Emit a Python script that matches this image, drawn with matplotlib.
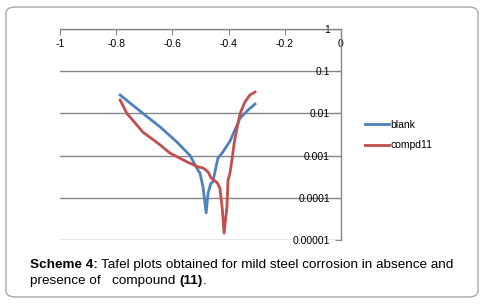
import matplotlib
matplotlib.use('Agg')
import matplotlib.pyplot as plt
from matplotlib.patches import FancyBboxPatch

plt.rcParams['font.family'] = ['Liberation Sans', 'DejaVu Sans']

# data (potential in V, current density on log scale)
blank_x = [-0.786, -0.705, -0.644, -0.584, -0.537, -0.509, -0.502, -0.491, -0.480,
           -0.473, -0.463, -0.456, -0.438, -0.423, -0.395, -0.359, -0.331, -0.306]
blank_y = [0.0273, 0.0100, 0.0048, 0.0021, 0.0010, 0.00045, 0.00039, 0.00018, 0.000044,
           0.00013, 0.00022, 0.00024, 0.00087, 0.00115, 0.0022, 0.0078, 0.012, 0.0167]
cmp_x = [-0.786, -0.762, -0.705, -0.644, -0.609, -0.548, -0.509, -0.491, -0.473, -0.463,
         -0.441, -0.431, -0.423, -0.416, -0.406, -0.402, -0.395, -0.388, -0.380, -0.370,
         -0.359, -0.342, -0.324, -0.306]
cmp_y = [0.0207, 0.0100, 0.0036, 0.0018, 0.00115, 0.00071, 0.00054, 0.00051, 0.00041, 0.00030,
         0.00023, 0.00017, 0.00006, 0.0000145, 0.00006, 0.00026, 0.00039, 0.0008, 0.0020, 0.0045,
         0.0100, 0.0186, 0.0274, 0.032]

xticks = [-1, -0.8, -0.6, -0.4, -0.2, 0]
xtick_labels = ['-1', '-0.8', '-0.6', '-0.4', '-0.2', '0']
yticks = [1, 0.1, 0.01, 0.001, 0.0001, 0.00001]
ytick_labels = ['1', '0.1', '0.01', '0.001', '0.0001', '0.00001']

fig = plt.figure(figsize=(4.88, 3.05), dpi=100)
border = FancyBboxPatch((6 / 488, 8 / 305), 472 / 488, 290 / 305,
                        boxstyle='round,pad=0,rounding_size=0.02', transform=fig.transFigure,
                        facecolor='none', edgecolor='#a6a6a6', linewidth=1.0, zorder=-1)
fig.patches.append(border)

ax = fig.add_axes([60 / 488, 1 - 240 / 305, 281 / 488, 211 / 305])
ax.patch.set_alpha(0)
ax.set_yscale('log')
ax.plot(blank_x, blank_y, color='#4f81bd', linewidth=2.0, label='blank')
ax.plot(cmp_x, cmp_y, color='#c0504d', linewidth=2.0, label='compd11')

ax.set_xlim(-1, 0)
ax.set_ylim(0.00001, 1)
ax.set_xticks(xticks, xtick_labels)
ax.set_yticks(yticks, ytick_labels)
ax.minorticks_off()
ax.grid(axis='y', color='#868686', linewidth=1.0)
ax.set_axisbelow(True)

for s in ['left', 'bottom']:
    ax.spines[s].set_visible(False)
for s in ['top', 'right']:
    ax.spines[s].set_color('#868686')
    ax.spines[s].set_linewidth(1.0)

ax.xaxis.tick_top()
ax.tick_params(axis='x', direction='in', length=4, color='#868686', labelsize=7.5, pad=-7)
for lab in ax.get_xticklabels():
    lab.set_va('top')
ax.yaxis.tick_right()
ax.tick_params(axis='y', direction='in', length=4, color='#868686', labelsize=7.5, pad=-8)
for lab in ax.get_yticklabels():
    lab.set_ha('right')

fig.legend(loc='center left', bbox_to_anchor=(356 / 488, 1 - 135 / 305), frameon=False,
           fontsize=7.5, handlelength=2.3, handletextpad=0.1, labelspacing=1.0)

# caption
fs = 9.7
renderer = fig.canvas.get_renderer()
y1 = 1 - 265 / 305
y2 = 1 - 281 / 305
t = fig.text(30 / 488, y1, 'Scheme 4:', fontsize=fs, fontweight='bold', va='center')
bb = t.get_window_extent(renderer)
fig.text((bb.x1 + 3) / 488, y1, 'Tafel plots obtained for mild steel corrosion in absence and',
         fontsize=fs, va='center')
t2 = fig.text(30 / 488, y2, 'presence of   compound ', fontsize=fs, va='center')
bb2 = t2.get_window_extent(renderer)
t3 = fig.text(bb2.x1 / 488, y2, '(11)', fontsize=fs, fontweight='bold', va='center')
bb3 = t3.get_window_extent(renderer)
fig.text(bb3.x1 / 488, y2, '.', fontsize=fs, va='center')

fig.savefig('out.png', dpi=100)
